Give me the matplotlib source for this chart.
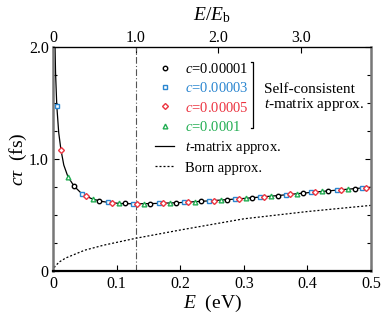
import numpy as np
import matplotlib
matplotlib.use("Agg")
import matplotlib.pyplot as plt
from matplotlib.lines import Line2D

plt.rcParams['font.family'] = ['Liberation Serif', 'DejaVu Serif']
plt.rcParams['mathtext.fontset'] = 'custom'
plt.rcParams['mathtext.rm'] = 'Liberation Serif'
plt.rcParams['mathtext.it'] = 'Liberation Serif:italic'

### data
Eb = 0.13  # eV, E/Eb = 1 line

# t-matrix approx. (solid)
E_t = [0.0015, 0.002, 0.003, 0.004, 0.006, 0.009, 0.0125, 0.017, 0.0235, 0.033,
       0.046, 0.06, 0.075, 0.09, 0.11, 0.13, 0.16, 0.2, 0.25, 0.3, 0.35, 0.4, 0.45, 0.5]
ct_t = [3.4, 2.55, 2.08, 1.78, 1.478, 1.24, 1.087, 0.95, 0.846, 0.763,
        0.690, 0.652, 0.627, 0.614, 0.606, 0.604, 0.607, 0.615, 0.632, 0.652,
        0.676, 0.703, 0.728, 0.752]

# Born approx. (dotted)
E_born = [0.0, 0.003, 0.01, 0.02, 0.05, 0.08, 0.13, 0.2, 0.3, 0.4, 0.5]
ct_born = [0.0, 0.045, 0.085, 0.12, 0.19, 0.235, 0.296, 0.37, 0.47, 0.535, 0.59]

# self-consistent t-matrix points
E_c1 = [0.033, 0.073, 0.113, 0.153, 0.193, 0.233, 0.273, 0.313, 0.353, 0.393, 0.433, 0.475]
ct_c1 = [0.763, 0.630, 0.607, 0.606, 0.614, 0.625, 0.641, 0.659, 0.678, 0.700, 0.719, 0.739]

E_c3 = [0.006, 0.046, 0.086, 0.126, 0.166, 0.206, 0.246, 0.286, 0.326, 0.366, 0.406, 0.446, 0.486]
ct_c3 = [1.478, 0.690, 0.620, 0.605, 0.608, 0.617, 0.630, 0.646, 0.665, 0.684, 0.706, 0.726, 0.745]

E_c5 = [0.0125, 0.0525, 0.0925, 0.1325, 0.1725, 0.2125, 0.2525, 0.2925, 0.3325, 0.3725, 0.4125, 0.4525, 0.4925]
ct_c5 = [1.087, 0.672, 0.615, 0.604, 0.609, 0.619, 0.633, 0.649, 0.668, 0.688, 0.709, 0.729, 0.748]

E_c10 = [0.0235, 0.0635, 0.1035, 0.1435, 0.1835, 0.2235, 0.2635, 0.3035, 0.3435, 0.3835, 0.4235, 0.4635]
ct_c10 = [0.846, 0.648, 0.610, 0.605, 0.611, 0.622, 0.637, 0.654, 0.673, 0.693, 0.714, 0.734]

labels_c = [r'$c$=0.00001', r'$c$=0.00003', r'$c$=0.00005', r'$c$=0.0001']
colors_c = ['black', '#2a86d0', '#ec3440', '#22ad52']
markers_c = ['o', 's', 'D', '^']

xticks = [0, 0.1, 0.2, 0.3, 0.4, 0.5]
xticklabels = ['0', '0.1', '0.2', '0.3', '0.4', '0.5']
yticks = [0, 1.0, 2.0]
yticklabels = ['0', '1.0', '2.0']
top_ticks = [0, 1.0, 2.0, 3.0]
top_labels = ['0', '1.0', '2.0', '3.0']


fig = plt.figure(figsize=(3.82, 3.22), dpi=100)
ax = fig.add_axes([0.1387, 0.157, 0.8325, 0.6955])

ax.plot(E_t, ct_t, color='black', lw=0.9, zorder=2)
ax.plot(E_born, ct_born, color='black', lw=0.9, ls=(0, (1.6, 1.6)), zorder=2)
ax.axvline(Eb, color='#555555', lw=0.8, ls=(0, (6, 2, 1, 2)), zorder=1)

series = [(E_c1, ct_c1), (E_c3, ct_c3), (E_c5, ct_c5), (E_c10, ct_c10)]
sizes = [3.2, 3.2, 3.0, 3.4]
for (xs, ys), col, mk, ms in zip(series, colors_c, markers_c, sizes):
    ax.plot(xs, ys, ls='none', marker=mk, ms=ms, mfc='white', mec=col, mew=1.0, zorder=3)

ax.set_xlim(0, 0.5)
ax.set_ylim(0, 2.0)
ax.set_xticks(xticks)
ax.set_xticklabels(xticklabels)
ax.set_yticks(yticks)
ax.set_yticklabels(yticklabels)
ax.set_yticks(np.arange(0, 2.01, 0.25), minor=True)
ax.tick_params(direction='in', labelsize=11.5, length=4, width=0.8, pad=3, right=True)
ax.tick_params(which='minor', direction='in', length=3, width=0.8, right=True, left=True)

for side in ['left', 'right']:
    ax.spines[side].set_color('#777777')
    ax.spines[side].set_linewidth(1.8)
ax.spines['bottom'].set_linewidth(1.6)
ax.spines['top'].set_linewidth(0.9)

ax.set_xlabel(r'$E$  (eV)', fontsize=14, labelpad=1)
ax.set_ylabel(r'$c\tau$  (fs)', fontsize=14, labelpad=0)

sec = ax.secondary_xaxis('top', functions=(lambda e: e / Eb, lambda r: r * Eb))
sec.set_xticks(top_ticks)
sec.set_xticklabels(top_labels)
sec.tick_params(direction='in', labelsize=11.5, length=4, width=0.8, pad=1)
sec.set_xlabel(r'$E/E_{\rm b}$', fontsize=14, labelpad=7)

# legend
handles = [Line2D([], [], ls='none', marker=mk, ms=ms, mfc='white', mec=col, mew=1.0)
           for col, mk, ms in zip(colors_c, markers_c, sizes)]
handles += [Line2D([], [], color='black', lw=0.9),
            Line2D([], [], color='black', lw=0.9, ls=(0, (1.6, 1.6)))]
leg_labels = labels_c + [r'$t$-matrix approx.', 'Born approx.']
leg = ax.legend(handles, leg_labels, loc='upper left', bbox_to_anchor=(0.32, 0.935),
                frameon=False, fontsize=10.5, handlelength=1.35, handletextpad=0.75,
                labelspacing=0.36, borderpad=0, borderaxespad=0)
for txt, col in zip(leg.get_texts(), colors_c + ['black', 'black']):
    txt.set_color(col)

# bracket for self-consistent entries
bx = 0.63
ax.plot([bx - 0.008, bx, bx, bx - 0.008], [0.935, 0.935, 0.64, 0.64],
        transform=ax.transAxes, color='black', lw=0.9, clip_on=False)
ax.text(bx + 0.035, 0.775, 'Self-consistent\n' + r'$t$-matrix approx.', transform=ax.transAxes,
        fontsize=11, va='center', ha='left', linespacing=1.0)

fig.savefig('out.png', dpi=100)
